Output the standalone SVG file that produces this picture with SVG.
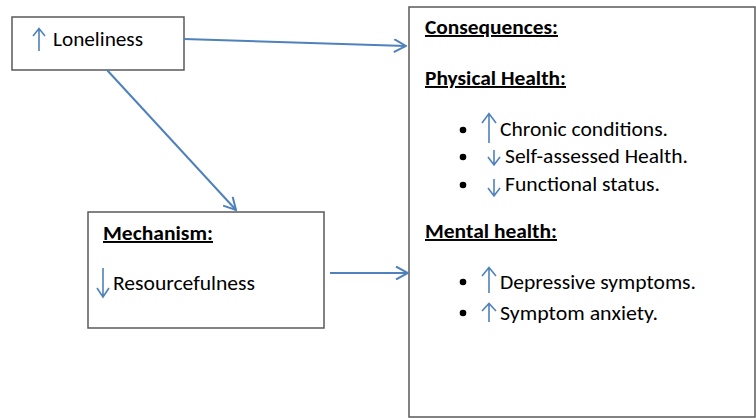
<svg xmlns="http://www.w3.org/2000/svg" width="756" height="418" viewBox="0 0 756 418">
<defs>
<marker id="chev" markerWidth="14" markerHeight="14" viewBox="-13 -7 14 14" refX="0" refY="0" orient="auto" markerUnits="userSpaceOnUse">
<path d="M-12,-6.5 L0,0 L-12,6.5" fill="none" stroke="#4F81BD" stroke-width="2"/>
</marker>
</defs>
<style>
.box{fill:#fff;stroke:#595959;stroke-width:1.5}
.t{font-family:Carlito,"Liberation Sans",Arial,sans-serif;font-size:19.5px;fill:#000}
.h{font-weight:bold;text-decoration:underline}
.conn{stroke:#4F81BD;stroke-width:2;fill:none}
.ar{stroke:#4F81BD;stroke-width:1.6;fill:none}
</style>
<g id="loneliness">
<rect class="box" x="12" y="17" width="172" height="53"/>
<path class="ar" d="M39,51 V29 M33,36 L39,28.5 L45,36"/>
<text class="t" x="53" y="46" textLength="90" lengthAdjust="spacingAndGlyphs">Loneliness</text>
</g>
<g id="mechanism">
<rect class="box" x="88" y="212" width="236" height="116"/>
<text class="t h" x="103" y="240" textLength="110" lengthAdjust="spacingAndGlyphs">Mechanism:</text>
<path class="ar" d="M103,268 V297 M97,288 L103,297 L109,288"/>
<text class="t" x="113" y="290" textLength="142" lengthAdjust="spacingAndGlyphs">Resourcefulness</text>
</g>
<g id="consequences">
<rect class="box" x="409" y="7" width="346" height="410"/>
<text class="t h" x="425" y="34" textLength="133" lengthAdjust="spacingAndGlyphs">Consequences:</text>
<text class="t h" x="425" y="85" textLength="141" lengthAdjust="spacingAndGlyphs">Physical Health:</text>
<circle cx="463" cy="130" r="3.3"/>
<path class="ar" d="M489,143 V114 M482,123 L489,113.5 L496,123"/>
<text class="t" x="500" y="136" textLength="168" lengthAdjust="spacingAndGlyphs">Chronic conditions.</text>
<circle cx="463" cy="157" r="3.3"/>
<path class="ar" d="M494,150 V165 M488,157 L494,165 L500,157"/>
<text class="t" x="505" y="163" textLength="183" lengthAdjust="spacingAndGlyphs">Self-assessed Health.</text>
<circle cx="463" cy="185" r="3.3"/>
<path class="ar" d="M494,179 V196 M488,188 L494,196 L500,188"/>
<text class="t" x="505" y="191" textLength="155" lengthAdjust="spacingAndGlyphs">Functional status.</text>
<text class="t h" x="425" y="238" textLength="132" lengthAdjust="spacingAndGlyphs">Mental health:</text>
<circle cx="463" cy="282" r="3.3"/>
<path class="ar" d="M489,293 V268 M482,276 L489,267.5 L496,276"/>
<text class="t" x="500" y="289" textLength="196" lengthAdjust="spacingAndGlyphs">Depressive symptoms.</text>
<circle cx="463" cy="313" r="3.3"/>
<path class="ar" d="M489,322 V304 M482,311 L489,303.5 L496,311"/>
<text class="t" x="500" y="320" textLength="158" lengthAdjust="spacingAndGlyphs">Symptom anxiety.</text>
</g>
<g id="connectors">
<line class="conn" x1="184" y1="39" x2="406" y2="46" marker-end="url(#chev)"/>
<line class="conn" x1="107" y1="70" x2="236" y2="210" marker-end="url(#chev)"/>
<line class="conn" x1="330" y1="273" x2="408" y2="273" marker-end="url(#chev)"/>
</g>
</svg>
